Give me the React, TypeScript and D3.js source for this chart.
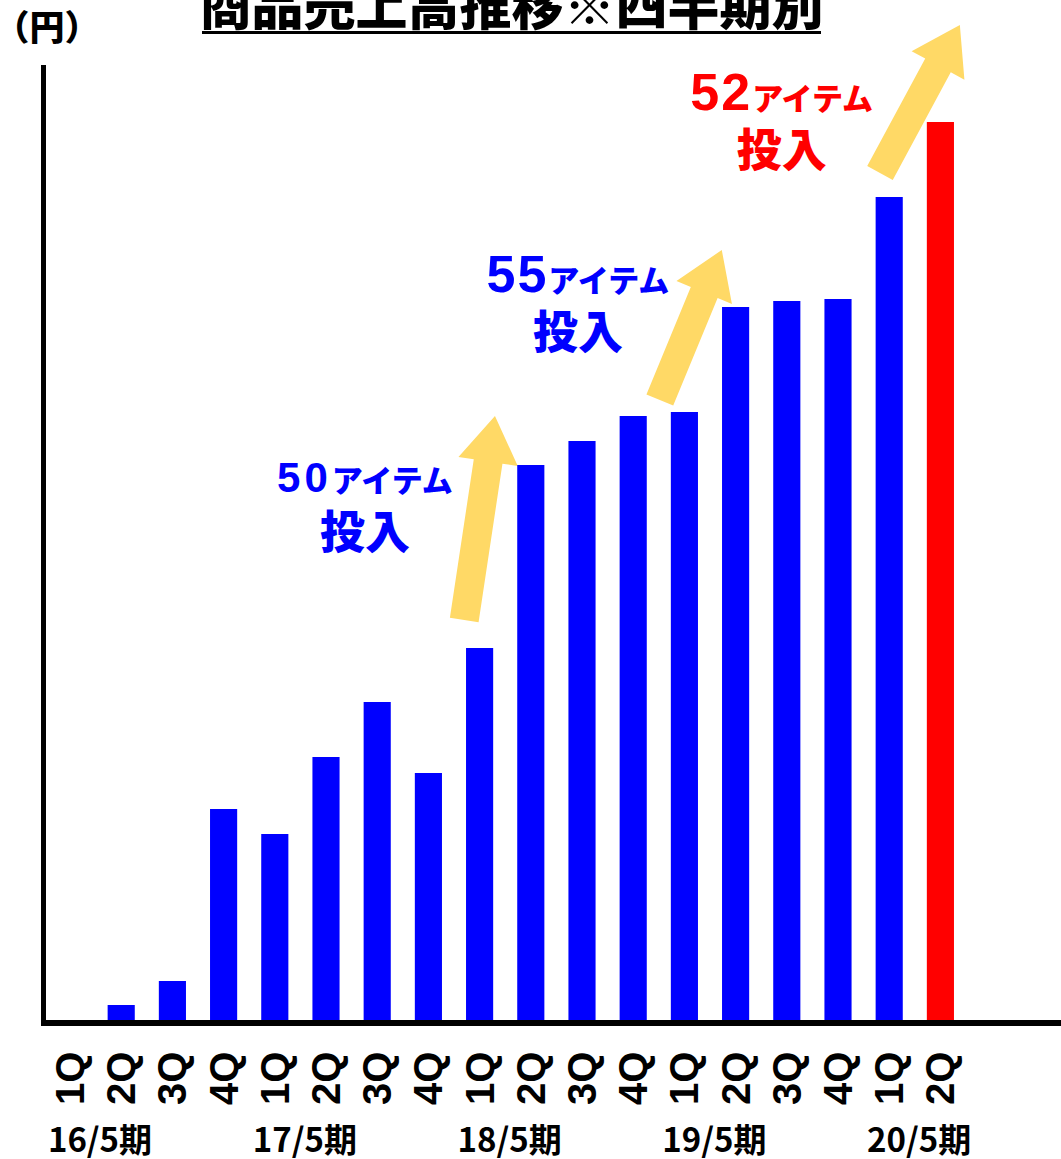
import React from 'react';
import * as d3 from 'd3';

// quarterly product sales (unit: 円, scale)
const quarters = ['1Q', '2Q', '3Q', '4Q', '1Q', '2Q', '3Q', '4Q', '1Q', '2Q', '3Q', '4Q', '1Q', '2Q', '3Q', '4Q', '1Q', '2Q'];
const sales = [0, 15, 39, 211, 186, 263, 318, 247, 372, 555, 579, 604, 608, 713, 719, 721, 823, 898];
const periods = ['16/5期', '17/5期', '18/5期', '19/5期', '20/5期'];
const periodFirstQuarter = [0, 4, 8, 12, 16];
const latestIndex = 17;

// item launches: arrow from/to (fractional category position, value) and label
const launchCounts = ['50', '55', '52'];
const launchLabelPos = [5.76, 9.92, 13.9];
const launchLabelValue = [528, 728, 910];
const arrowFrom = [[7.7, 400], [11.52, 620], [15.82, 847]];
const arrowTo = [[8.3, 604], [12.73, 770], [17.38, 995]];

const width = 1061;
const height = 1159;
const left = 44.4;
const step = 51.2;
const baseY = 1020;
const topY = 65;

const JP = '"Noto Sans CJK JP", sans-serif';
const LAT = '"Liberation Sans", Arial, sans-serif';
const BLUE = '#0000ff';
const RED = '#ff0000';
const YELLOW = '#ffd966';

function arrowPath(t, p) {
  const dx = p[0] - t[0];
  const dy = p[1] - t[1];
  const len = Math.hypot(dx, dy);
  const ux = dx / len, uy = dy / len;
  const nx = -uy, ny = ux;
  const hl = 46, hw = 30, sw = 14.5;
  const bx = p[0] - ux * hl, by = p[1] - uy * hl;
  const pts = [
    [t[0] + nx * sw, t[1] + ny * sw],
    [bx + nx * sw, by + ny * sw],
    [bx + nx * hw, by + ny * hw],
    p,
    [bx - nx * hw, by - ny * hw],
    [bx - nx * sw, by - ny * sw],
    [t[0] - nx * sw, t[1] - ny * sw],
  ];
  return d3.line()(pts) + 'Z';
}

export default function App() {
  const x = d3
    .scaleBand()
    .domain(d3.range(quarters.length))
    .range([left, left + step * quarters.length])
    .paddingInner(0.47)
    .paddingOuter(0.235);
  const xPos = d3.scaleLinear().domain([-0.5, quarters.length - 0.5]).range([left, left + step * quarters.length]);
  const y = d3.scaleLinear().domain([0, baseY - topY]).range([baseY, topY]);
  const cx = (i) => x(i) + x.bandwidth() / 2;

  return (
    <svg width={width} height={height} style={{ position: 'absolute', left: 0, top: 0, background: '#fff' }}>
      {/* title */}
      <text x={511.5} y={25} textAnchor="middle" fontFamily={JP} fontWeight={900} fontSize={52} fill="#000">
        商品売上高推移※四半期別
      </text>
      <rect x={202} y={31} width={619} height={3} fill="#000" />
      <text x={47} y={40} textAnchor="middle" fontFamily={JP} fontWeight={900} fontSize={35} fill="#000">
        （円）
      </text>

      {/* arrows */}
      {arrowFrom.map((a, i) => (
        <path
          key={'arrow' + i}
          d={arrowPath([xPos(a[0]), y(a[1])], [xPos(arrowTo[i][0]), y(arrowTo[i][1])])}
          fill={YELLOW}
        />
      ))}

      {/* bars */}
      {sales.map((v, i) => (
        <rect
          key={'bar' + i}
          x={x(i)}
          y={y(v)}
          width={x.bandwidth()}
          height={baseY - y(v)}
          fill={i === latestIndex ? RED : BLUE}
        />
      ))}

      {/* axes */}
      <line x1={43.5} y1={topY} x2={43.5} y2={baseY + 6} stroke="#000" strokeWidth={5} />
      <line x1={41} y1={baseY + 3} x2={width} y2={baseY + 3} stroke="#000" strokeWidth={6} />

      {/* quarter labels */}
      {quarters.map((q, i) => (
        <text
          key={'q' + i}
          transform={`translate(${cx(i)},1105) rotate(-90)`}
          dy="0.35em"
          fontFamily={LAT}
          fontWeight={700}
          fontSize={40}
          fill="#000"
        >
          {q}
        </text>
      ))}

      {/* fiscal period labels */}
      {periods.map((p, i) => (
        <text
          key={'p' + i}
          x={cx(periodFirstQuarter[i]) + 30}
          y={1152}
          textAnchor="middle"
          fontFamily={JP}
          fontWeight={700}
          fontSize={33}
          fill="#000"
        >
          {p}
        </text>
      ))}

      {/* launch notes */}
      {launchCounts.map((c, i) => {
        const color = i === launchCounts.length - 1 ? RED : BLUE;
        const lx = xPos(launchLabelPos[i]);
        const ly = y(launchLabelValue[i]);
        const small = i === 0;
        return (
          <g key={'note' + i} fill={color}>
            <text x={lx} y={ly} textAnchor="middle" fontWeight={700}>
              <tspan fontFamily={LAT} fontSize={small ? 42 : 52} letterSpacing={small ? 4 : 2}>
                {c}
              </tspan>
              <tspan fontFamily={JP} fontWeight={900} fontSize={31}>
                アイテム
              </tspan>
            </text>
            <text x={lx} y={ly + 57} textAnchor="middle" fontFamily={JP} fontWeight={900} fontSize={45}>
              投入
            </text>
          </g>
        );
      })}
    </svg>
  );
}
